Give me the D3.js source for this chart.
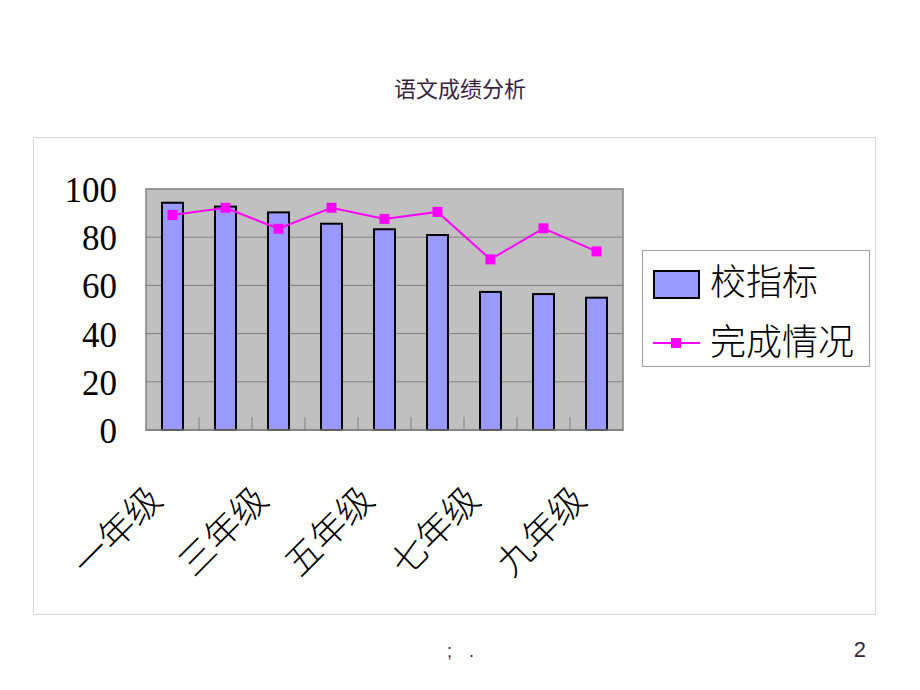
<!DOCTYPE html>
<html><head><meta charset="utf-8">
<script src="https://cdn.jsdelivr.net/npm/d3@7"></script>
<style>body{margin:0;background:#fff}svg{display:block}</style>
</head><body>
<svg id="c" width="920" height="690"></svg>
<script>
const categories = ["一年级","二年级","三年级","四年级","五年级","六年级","七年级","八年级","九年级"];
const shownLabels = ["一年级","三年级","五年级","七年级","九年级"];
const schoolTarget = [94.3, 92.7, 90.3, 85.6, 83.3, 80.9, 57.3, 56.4, 54.9];
const completion = [89.2, 92.2, 83.5, 92.2, 87.6, 90.5, 70.8, 83.7, 74.1];
const yTicks = [0, 20, 40, 60, 80, 100];
const seriesNames = ["校指标", "完成情况"];
const title = "语文成绩分析";

const svg = d3.select("#c");
const cjk = "'Noto Sans CJK SC', sans-serif";

// title
svg.append("text").attr("x", 460).attr("y", 97).attr("text-anchor", "middle")
  .attr("font-family", cjk).attr("font-size", 22).attr("fill", "#3b1f3f").text(title);

// outer frame
svg.append("rect").attr("x", 33.5).attr("y", 137.5).attr("width", 842).attr("height", 477)
  .attr("fill", "#fff").attr("stroke", "#d6d6d6").attr("stroke-width", 1);

const L = 146, R = 623, T = 189, B = 430;
const x = d3.scaleBand().domain(categories).range([L, R]);
const y = d3.scaleLinear().domain([0, 100]).range([B, T]);

// plot bg
svg.append("rect").attr("x", L).attr("y", T).attr("width", R - L).attr("height", B - T)
  .attr("fill", "#c0c0c0");

// gridlines
svg.append("g").selectAll("line").data(yTicks.filter(d => d > 0 && d < 100)).join("line")
  .attr("x1", L).attr("x2", R).attr("y1", d => y(d)).attr("y2", d => y(d))
  .attr("stroke", "#808080").attr("stroke-width", 1);

// plot border
svg.append("rect").attr("x", L).attr("y", T).attr("width", R - L).attr("height", B - T)
  .attr("fill", "none").attr("stroke", "#808080").attr("stroke-width", 1.5);

// category tick marks (inside)
svg.append("g").selectAll("line").data(categories.slice(1)).join("line")
  .attr("x1", d => x(d)).attr("x2", d => x(d)).attr("y1", B).attr("y2", B - 13)
  .attr("stroke", "#808080").attr("stroke-width", 1);

// bars
const bw = 21;
svg.append("g").selectAll("rect").data(schoolTarget).join("rect")
  .attr("x", (d, i) => x(categories[i]) + x.bandwidth() / 2 - bw / 2)
  .attr("y", d => y(d)).attr("width", bw).attr("height", d => B - y(d))
  .attr("fill", "#9999ff").attr("stroke", "#000").attr("stroke-width", 2);

// x axis line
svg.append("line").attr("x1", L).attr("x2", R).attr("y1", B).attr("y2", B)
  .attr("stroke", "#808080").attr("stroke-width", 1.5);

// line series
const cx = (i) => x(categories[i]) + x.bandwidth() / 2;
svg.append("path").datum(completion)
  .attr("d", d3.line().x((d, i) => cx(i)).y(d => y(d)))
  .attr("fill", "none").attr("stroke", "#ff00ff").attr("stroke-width", 2);
svg.append("g").selectAll("rect").data(completion).join("rect")
  .attr("x", (d, i) => cx(i) - 5).attr("y", d => y(d) - 5).attr("width", 10).attr("height", 10)
  .attr("fill", "#ff00ff");

// y labels
svg.append("g").selectAll("text").data(yTicks).join("text")
  .attr("x", 117).attr("y", d => y(d) + 5).attr("text-anchor", "end")
  .attr("dominant-baseline", "middle")
  .attr("font-family", "'Liberation Serif', serif").attr("font-size", 35).attr("fill", "#000")
  .text(d => d);

// x labels (every other)
svg.append("g").selectAll("text").data(shownLabels).join("text")
  .attr("transform", d => `translate(${x(d) + x.bandwidth() / 2 - 32},${478}) rotate(-45)`)
  .attr("text-anchor", "end").attr("dominant-baseline", "hanging")
  .attr("font-family", cjk).attr("font-size", 36).attr("font-weight", 300).attr("fill", "#000")
  .text(d => d);

// legend
const lg = svg.append("g");
lg.append("rect").attr("x", 642.5).attr("y", 250.5).attr("width", 227).attr("height", 116)
  .attr("fill", "#fff").attr("stroke", "#a0a0a0").attr("stroke-width", 1);
lg.append("rect").attr("x", 654).attr("y", 271).attr("width", 45).attr("height", 27)
  .attr("fill", "#9999ff").attr("stroke", "#000").attr("stroke-width", 2);
lg.append("line").attr("x1", 653).attr("x2", 700).attr("y1", 343).attr("y2", 343)
  .attr("stroke", "#ff00ff").attr("stroke-width", 2);
lg.append("rect").attr("x", 671).attr("y", 338).attr("width", 10).attr("height", 10).attr("fill", "#ff00ff");
lg.selectAll("text.lt").data(seriesNames).join("text").attr("class", "lt")
  .attr("x", 710).attr("y", (d, i) => 285 + i * 60).attr("dominant-baseline", "middle")
  .attr("font-family", cjk).attr("font-size", 36).attr("font-weight", 300).attr("fill", "#000")
  .text(d => d);

// footer
svg.append("text").attr("x", 447).attr("y", 657).attr("font-family", "'Liberation Sans', sans-serif").attr("font-size", 18)
  .attr("fill", "#3b1f3f").text(";");
svg.append("text").attr("x", 469).attr("y", 657).attr("font-family", "'Liberation Sans', sans-serif").attr("font-size", 18)
  .attr("fill", "#3b1f3f").text(".");
svg.append("text").attr("x", 866).attr("y", 657).attr("text-anchor", "end")
  .attr("font-family", "'Liberation Sans', Arial, sans-serif").attr("font-size", 22)
  .attr("fill", "#3b1f3f").text("2");
</script>
</body></html>
